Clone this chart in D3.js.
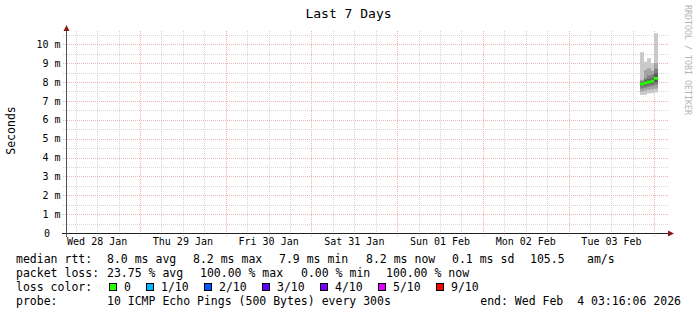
<!DOCTYPE html>
<html><head><meta charset="utf-8">
<script src="https://cdn.jsdelivr.net/npm/d3@7"></script>
<style>
html,body{margin:0;padding:0;background:#fff;}
svg{display:block;}
text{font-family:"DejaVu Sans Mono","Liberation Mono",monospace;fill:#000;}
</style></head><body>
<svg id="chart" width="697" height="315"></svg>
<script>
// ---------- data ----------
const chartTitle = "Last 7 Days";
const yAxisTitle = "Seconds";
const watermark = "RRDTOOL / TOBI OETIKER";
const startTime = "2026-01-28T03:16:06Z";
const endTime = "2026-02-04T03:16:06Z";
// hourly bins with data (bin start times)
const binStarts = ["2026-02-03T20:00:00Z","2026-02-03T21:00:00Z","2026-02-03T22:00:00Z","2026-02-03T23:00:00Z","2026-02-04T00:00:00Z"];
// median round-trip time per bin (ms)
const medianRtt = [7.9, 7.95, 8.0, 8.05, 8.2];
// lost pings (of 10) per bin
const lossCount = [0, 0, 0, 0, 0];
// sorted 10 ping rtts per bin (ms)
const pingsBin1 = [7.32, 7.50, 7.66, 7.80, 7.88, 7.92, 8.00, 8.05, 8.12, 9.58];
const pingsBin2 = [7.32, 7.55, 7.70, 7.82, 7.92, 8.00, 8.10, 8.20, 8.64, 9.08];
const pingsBin3 = [7.40, 7.60, 7.75, 7.88, 7.96, 8.04, 8.15, 8.35, 8.73, 9.26];
const pingsBin4 = [7.42, 7.62, 7.80, 7.92, 8.00, 8.10, 8.20, 8.40, 8.60, 9.00];
const pingsBin5 = [7.45, 7.65, 7.85, 8.00, 8.12, 8.28, 8.45, 8.70, 9.00, 10.59];
const yTickValues = [0,1,2,3,4,5,6,7,8,9,10];
const yTickLabels = ["0","1 m","2 m","3 m","4 m","5 m","6 m","7 m","8 m","9 m","10 m"];
const xTickDates = ["2026-01-28T12:00:00Z","2026-01-29T12:00:00Z","2026-01-30T12:00:00Z","2026-01-31T12:00:00Z","2026-02-01T12:00:00Z","2026-02-02T12:00:00Z","2026-02-03T12:00:00Z"];
const xTickLabels = ["Wed 28 Jan","Thu 29 Jan","Fri 30 Jan","Sat 31 Jan","Sun 01 Feb","Mon 02 Feb","Tue 03 Feb"];
// legend
const rttLegend = ["median rtt:", "8.0 ms avg", "8.2 ms max", "7.9 ms min", "8.2 ms now", "0.1 ms sd", "105.5", "am/s"];
const lossLegend = ["packet loss:", "23.75 % avg", "100.00 % max", "0.00 % min", "100.00 % now"];
const lossColorLabels = ["0","1/10","2/10","3/10","4/10","5/10","9/10"];
const lossColorLevels = [0,1,2,3,4,5,9];
const lossColors = ["#26ff00","#00b8ff","#0059ff","#5e00ff","#7e00ff","#dd00ff","#ff0000"];
const probeLegend = ["probe:", "10 ICMP Echo Pings (500 Bytes) every 300s", "end: Wed Feb  4 03:16:06 2026"];
const smokeGreys = ["#cacaca","#a4a4a4","#7e7e7e","#585858","#323232"];

// ---------- drawing ----------
const pingsAll = [pingsBin1, pingsBin2, pingsBin3, pingsBin4, pingsBin5];
const svg = d3.select("#chart");
svg.append("rect").attr("width",697).attr("height",315).attr("fill","#fff");

const t0 = new Date(startTime), t1 = new Date(endTime);
const x = d3.scaleUtc().domain([t0, t1]).range([66, 666]);
const y = d3.scaleLinear().domain([0, 10.6]).range([233, 33]);
const snap = v => Math.round(v) + 0.5;

// title
svg.append("text").attr("x",348.5).attr("y",18).attr("text-anchor","middle")
  .style("font-size","13px").text(chartTitle);

// watermark
svg.append("text").attr("transform","translate(685,5) rotate(90)")
  .style("font-size","8.5px").style("fill","#b4b4b4")
  .attr("textLength",110).attr("lengthAdjust","spacingAndGlyphs").text(watermark);

// y axis title
svg.append("text").attr("transform","translate(15,130.5) rotate(-90)")
  .attr("text-anchor","middle").style("font-size","11.5px").text(yAxisTitle);

const grid = svg.append("g");
const minorCol = "#d6d6d6", majorCol = "#ecb4b4";
// minor horizontal grid
const minorY = d3.range(0.5, 10.6, 1);
grid.selectAll(".hmin").data(minorY).join("line")
  .attr("x1",63).attr("x2",668).attr("y1",d=>snap(y(d))).attr("y2",d=>snap(y(d)))
  .attr("stroke",minorCol).attr("stroke-dasharray","1,1");
// minor vertical grid (6h)
const minorX = d3.utcHour.every(6).range(t0, t1).filter(d => d.getUTCHours() !== 0);
grid.selectAll(".vmin").data(minorX).join("line")
  .attr("x1",d=>snap(x(d))).attr("x2",d=>snap(x(d))).attr("y1",31).attr("y2",236)
  .attr("stroke",minorCol).attr("stroke-dasharray","1,1");
// major horizontal
grid.selectAll(".hmaj").data(yTickValues.filter(v=>v>0)).join("line")
  .attr("x1",63).attr("x2",668).attr("y1",d=>snap(y(d))).attr("y2",d=>snap(y(d)))
  .attr("stroke",majorCol).attr("stroke-dasharray","1,1");
// major vertical (midnight)
const majorX = d3.utcDay.range(t0, t1);
grid.selectAll(".vmaj").data(majorX).join("line")
  .attr("x1",d=>snap(x(d))).attr("x2",d=>snap(x(d))).attr("y1",31).attr("y2",237)
  .attr("stroke",majorCol).attr("stroke-dasharray","1,1");

// smoke
const plot = svg.append("g");
const hour = 3600*1000;
binStarts.forEach((bs, i) => {
  const ts = new Date(bs), te = new Date(ts.getTime() + hour);
  const p = pingsAll[i];
  const xa = Math.round(x(ts)), xb = Math.round(x(te));
  for (let b = 0; b < 5; b++) {
    const top = y(p[9-b]), bot = y(p[b]);
    plot.append("rect").attr("x",xa).attr("width",xb-xa)
      .attr("y",top).attr("height",bot-top).attr("fill",smokeGreys[b]);
  }
});
// median band coloured by loss
binStarts.forEach((bs, i) => {
  const ts = new Date(bs), te = new Date(ts.getTime() + hour);
  const xa = Math.round(x(ts)), xb = Math.round(x(te));
  const li = lossColorLevels.findIndex(l => l >= lossCount[i]);
  plot.append("rect").attr("x",xa).attr("width",xb-xa)
    .attr("y",y(medianRtt[i])-1.5).attr("height",3).attr("fill",lossColors[li]);
});

// axes
svg.append("line").attr("x1",62).attr("x2",669).attr("y1",233.5).attr("y2",233.5)
  .attr("stroke","#222").attr("stroke-width",1);
svg.append("line").attr("x1",66.5).attr("x2",66.5).attr("y1",237).attr("y2",30)
  .attr("stroke","#555").attr("stroke-width",1);
svg.append("path").attr("d","M668,230.5L674,233.5L668,236.5Z").attr("fill","#8b1a1a");
svg.append("path").attr("d","M63.5,31L69.5,31L66.5,25Z").attr("fill","#8b1a1a");

// y labels
svg.selectAll(".ylab").data(yTickValues).join("text")
  .attr("x",(d,i)=> d===0 ? 50 : 60.5).attr("y",d=>y(d)+3.7).attr("text-anchor","end")
  .style("font-size","10px").text((d,i)=>yTickLabels[i]);
// x labels
svg.selectAll(".xlab").data(xTickDates).join("text")
  .attr("x",d=>x(new Date(d))).attr("y",244.5).attr("text-anchor","middle")
  .style("font-size","10px").text((d,i)=>xTickLabels[i]);

// legend
const lf = "11.5px";
const row1X = [16, 107, 193, 279, 366, 452, 530, 587];
rttLegend.forEach((s,i)=> svg.append("text").attr("x",row1X[i]).attr("y",263).style("font-size",lf).text(s));
const row2X = [16, 107, 200, 301, 386];
lossLegend.forEach((s,i)=> svg.append("text").attr("x",row2X[i]).attr("y",277).style("font-size",lf).text(s));
svg.append("text").attr("x",16).attr("y",290.5).style("font-size",lf).text("loss color:");
const boxX = [109, 146, 204, 261.7, 320, 378.3, 436];
lossColorLabels.forEach((s,i)=>{
  svg.append("rect").attr("x",Math.round(boxX[i])+0.5).attr("y",283.5).attr("width",7).attr("height",7)
    .attr("fill",lossColors[i]).attr("stroke","#000");
  svg.append("text").attr("x",Math.round(boxX[i])+15).attr("y",290.5).style("font-size",lf).text(s);
});
svg.append("text").attr("x",16).attr("y",304.5).style("font-size",lf).text(probeLegend[0]);
svg.append("text").attr("x",107).attr("y",304.5).style("font-size",lf).text(probeLegend[1]);
svg.append("text").attr("x",681).attr("y",304.5).attr("text-anchor","end").style("font-size",lf)
  .style("white-space","pre").attr("xml:space","preserve").text(probeLegend[2]);
</script>
</body></html>
